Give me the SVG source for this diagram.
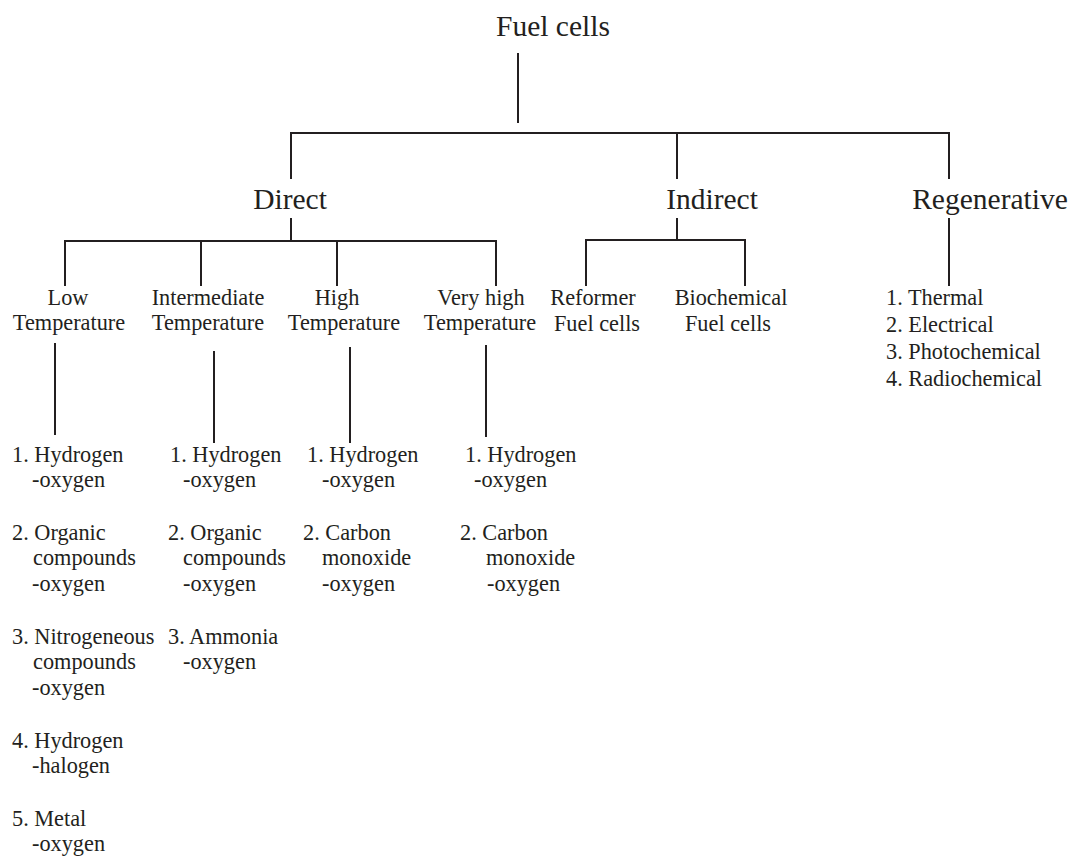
<svg xmlns="http://www.w3.org/2000/svg" width="1070" height="857" viewBox="0 0 1070 857">
<style>
text{font-family:"Liberation Serif","Times New Roman",serif;fill:#231f20}
.t1{font-size:29.5px;text-anchor:middle}
.t2{font-size:22.3px;text-anchor:middle}
.it{font-size:22.3px}
.ln{stroke:#231f20;stroke-width:2;fill:none}
</style>
<rect width="1070" height="857" fill="#fff"/>
<g id="connectors" class="ln">
<path d="M518 53V123"/>
<path d="M291 179V133H949V179M677 133V179"/>
<path d="M291 218V241M65 286V241H496V286M201 241V286M337 241V286"/>
<path d="M677 218V240M586 286V240H745V286"/>
<path d="M949 218V286"/>
<path d="M55 343V435M214 351V443M350 347V443M486 345V437"/>
</g>
<g id="n-fuelcells"><text class="t1" x="553" y="36">Fuel cells</text></g>
<g id="n-direct"><text class="t1" x="290" y="209">Direct</text></g>
<g id="n-indirect"><text class="t1" x="712" y="209">Indirect</text></g>
<g id="n-regenerative"><text class="t1" x="990" y="209">Regenerative</text></g>
<g id="n-low"><text class="t2" x="68" y="305">Low</text><text class="t2" x="69" y="330">Temperature</text></g>
<g id="n-intermediate"><text class="t2" x="208" y="305">Intermediate</text><text class="t2" x="208" y="330">Temperature</text></g>
<g id="n-high"><text class="t2" x="337" y="305">High</text><text class="t2" x="344" y="330">Temperature</text></g>
<g id="n-veryhigh"><text class="t2" x="481" y="305">Very high</text><text class="t2" x="480" y="330">Temperature</text></g>
<g id="n-reformer"><text class="t2" x="593" y="305">Reformer</text><text class="t2" x="597" y="331">Fuel cells</text></g>
<g id="n-biochemical"><text class="t2" x="731" y="305">Biochemical</text><text class="t2" x="728" y="331">Fuel cells</text></g>
<g id="n-regen-list" class="it">
<text x="886" y="305">1. Thermal</text>
<text x="886" y="332">2. Electrical</text>
<text x="886" y="359">3. Photochemical</text>
<text x="886" y="386">4. Radiochemical</text>
</g>
<g id="n-low-list" class="it">
<text x="12" y="461.5">1. Hydrogen</text>
<text x="32" y="487">-oxygen</text>
<text x="12" y="539.5">2. Organic</text>
<text x="33" y="565">compounds</text>
<text x="32" y="590.5">-oxygen</text>
<text x="12" y="643.5">3. Nitrogeneous</text>
<text x="33" y="669">compounds</text>
<text x="32" y="694.5">-oxygen</text>
<text x="12" y="747.5">4. Hydrogen</text>
<text x="32" y="773">-halogen</text>
<text x="12" y="825.5">5. Metal</text>
<text x="32" y="851">-oxygen</text>
</g>
<g id="n-intermediate-list" class="it">
<text x="170" y="461.5">1. Hydrogen</text>
<text x="183" y="487">-oxygen</text>
<text x="168" y="539.5">2. Organic</text>
<text x="183" y="565">compounds</text>
<text x="183" y="590.5">-oxygen</text>
<text x="168" y="643.5">3. Ammonia</text>
<text x="183" y="669">-oxygen</text>
</g>
<g id="n-high-list" class="it">
<text x="307" y="461.5">1. Hydrogen</text>
<text x="322" y="487">-oxygen</text>
<text x="303" y="539.5">2. Carbon</text>
<text x="322" y="565">monoxide</text>
<text x="322" y="590.5">-oxygen</text>
</g>
<g id="n-veryhigh-list" class="it">
<text x="465" y="461.5">1. Hydrogen</text>
<text x="474" y="487">-oxygen</text>
<text x="460" y="539.5">2. Carbon</text>
<text x="486" y="565">monoxide</text>
<text x="487" y="590.5">-oxygen</text>
</g>
</svg>
